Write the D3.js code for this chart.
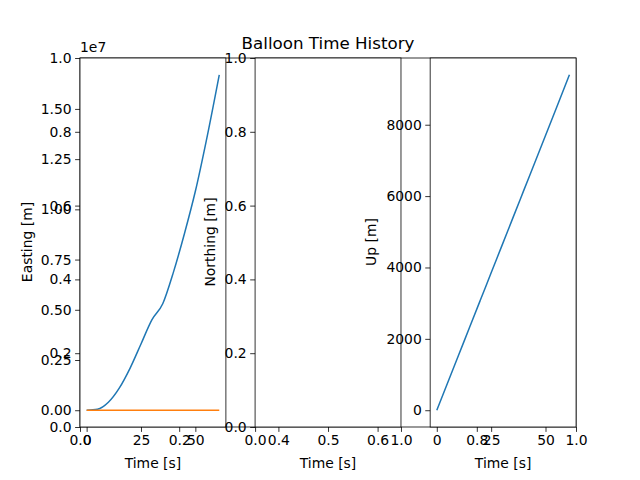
<!DOCTYPE html>
<html>
<head>
<meta charset="utf-8">
<script src="https://cdn.jsdelivr.net/npm/d3@7"></script>
<style>
  body { margin: 0; background: #fff; }
  text { font-family: "DejaVu Sans", sans-serif; }
</style>
</head>
<body>
<svg id="chart" width="640" height="480"></svg>
<script>
// Data
const time = [0, 5, 10, 15, 20, 25, 30, 35, 40, 45, 50, 55, 61];
const easting = [0, 0.005e7, 0.04e7, 0.11e7, 0.21e7, 0.33e7, 0.45e7, 0.53e7, 0.69e7, 0.88e7, 1.09e7, 1.34e7, 1.67e7];
const eastingRef = [0, 0, 0, 0, 0, 0, 0, 0, 0, 0, 0, 0, 0];
const up = [0, 770, 1540, 2310, 3080, 3850, 4620, 5390, 6160, 6930, 7700, 8470, 9400];
const unitTicks = [0, 0.2, 0.4, 0.6, 0.8, 1.0];
const eastingTicks = [0, 0.25e7, 0.5e7, 0.75e7, 1.0e7, 1.25e7, 1.5e7];
const upTicks = [0, 2000, 4000, 6000, 8000];
const timeTicks = [0, 25, 50];

const svg = d3.select('#chart');
const yTop = 58, yBot = 427;
const fs = 13.9;

function pad(lo, hi) { const m = (hi - lo) * 0.05; return [lo - m, hi + m]; }

function drawAxes(x0, x1, xs, ys, xt, yt, xf, yf) {
  const g = svg.append('g');
  g.append('rect').attr('x', x0).attr('y', yTop).attr('width', x1 - x0).attr('height', yBot - yTop).attr('fill', '#fff');
  const content = g.append('g');
  const xa = d3.axisBottom(xs).tickValues(xt).tickFormat(xf).tickSize(4.9).tickPadding(3.5);
  const ya = d3.axisLeft(ys).tickValues(yt).tickFormat(yf).tickSize(4.9).tickPadding(3.5);
  const gx = g.append('g').attr('transform', `translate(0,${yBot})`).call(xa);
  const gy = g.append('g').attr('transform', `translate(${x0},0)`).call(ya);
  [gx, gy].forEach(a => {
    a.select('.domain').remove();
    a.selectAll('text').attr('font-size', fs).attr('fill', '#000');
    a.selectAll('line').attr('stroke', '#000').attr('stroke-width', 0.8);
  });
  g.append('rect').attr('x', x0).attr('y', yTop).attr('width', x1 - x0).attr('height', yBot - yTop)
    .attr('fill', 'none').attr('stroke', '#000').attr('stroke-width', 0.8);
  return content;
}

function line(g, xs, ys, xv, yv, color) {
  g.append('path').datum(xv.map((t, i) => [t, yv[i]]))
    .attr('d', d3.line().x(d => xs(d[0])).y(d => ys(d[1])).curve(d3.curveMonotoneX))
    .attr('fill', 'none').attr('stroke', color).attr('stroke-width', 1.5);
}

function label(x, y, txt, rot) {
  svg.append('text').attr('x', x).attr('y', y).attr('font-size', fs).attr('text-anchor', 'middle')
    .attr('transform', rot ? `rotate(-90,${x},${y})` : null).text(txt);
}

// background axes
const bx = d3.scaleLinear().domain([0, 1]).range([80, 576]);
const by = d3.scaleLinear().domain([0, 1]).range([yBot, yTop]);
drawAxes(80, 576, bx, by, unitTicks, unitTicks, d3.format('.1f'), d3.format('.1f'));

const w = 145.9;
const lefts = [80, 80 + 1.2 * w, 80 + 2.4 * w];
const tDom = pad(0, 61);

// Easting
const x1 = d3.scaleLinear().domain(tDom).range([lefts[0], lefts[0] + w]);
const y1 = d3.scaleLinear().domain(pad(0, 1.67e7)).range([yBot, yTop]);
const g1 = drawAxes(lefts[0], lefts[0] + w, x1, y1, timeTicks, eastingTicks, d3.format('d'), d => (d / 1e7).toFixed(2));
line(g1, x1, y1, time, easting, '#1f77b4');
line(g1, x1, y1, time, eastingRef, '#ff7f0e');
svg.append('text').attr('x', 80).attr('y', 52).attr('font-size', fs).text('1e7');

// Northing (empty)
const x2 = d3.scaleLinear().domain([0, 1]).range([lefts[1], lefts[1] + w]);
const y2 = d3.scaleLinear().domain([0, 1]).range([yBot, yTop]);
drawAxes(lefts[1], lefts[1] + w, x2, y2, [0, 0.5, 1], unitTicks, d3.format('.1f'), d3.format('.1f'));

// Up
const x3 = d3.scaleLinear().domain(tDom).range([lefts[2], lefts[2] + w]);
const y3 = d3.scaleLinear().domain(pad(0, 9400)).range([yBot, yTop]);
const g3 = drawAxes(lefts[2], lefts[2] + w, x3, y3, timeTicks, upTicks, d3.format('d'), d3.format('d'));
line(g3, x3, y3, time, up, '#1f77b4');

// labels
label(32, 242, 'Easting [m]', true);
label(215, 242, 'Northing [m]', true);
label(376, 242, 'Up [m]', true);
lefts.forEach(l => label(l + w / 2, 468, 'Time [s]', false));
svg.append('text').attr('x', 328).attr('y', 49).attr('font-size', 16.7).attr('text-anchor', 'middle').text('Balloon Time History');
</script>
</body>
</html>
